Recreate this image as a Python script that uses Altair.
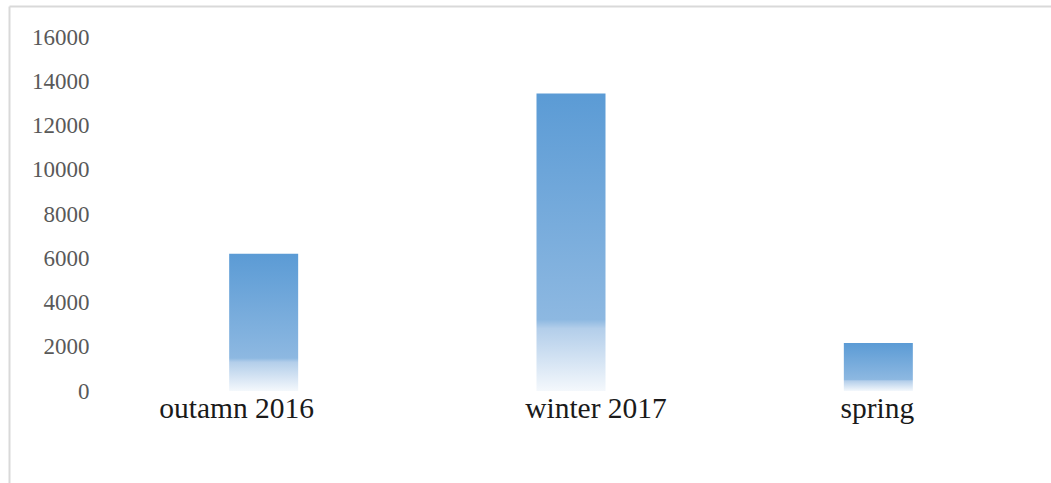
import altair as alt
import pandas as pd

categories = ["outamn 2016", "winter 2017", "spring"]
values = [6200, 13450, 2170]
y_ticks = [0, 2000, 4000, 6000, 8000, 10000, 12000, 14000, 16000]

df = pd.DataFrame({"season": categories, "value": values})

grad = alt.LinearGradient(
    gradient="linear",
    stops=[
        alt.GradientStop(offset=0, color="#5B9BD5"),
        alt.GradientStop(offset=0.76, color="#8DB8E1"),
        alt.GradientStop(offset=0.79, color="#B3CEEA"),
        alt.GradientStop(offset=1, color="#F4F8FC"),
    ],
    x1=0, x2=0, y1=0, y2=1,
)

label_offset = {
    "condition": [
        {"test": "datum.value === 'outamn 2016'", "value": -27},
        {"test": "datum.value === 'winter 2017'", "value": 25},
    ],
    "value": -1,
}

bars = alt.Chart(df).mark_bar(size=69, color=grad).encode(
    x=alt.X("season:N", sort=categories,
            scale=alt.Scale(paddingInner=0, paddingOuter=0),
            axis=alt.Axis(title=None, labelAngle=0, domain=False, ticks=False,
                          labelFont="Liberation Serif", labelFontSize=29.5,
                          labelColor="#1a1a1a", labelPadding=3,
                          labelOffset=label_offset)),
    y=alt.Y("value:Q", scale=alt.Scale(domain=[0, 16000], nice=False),
            axis=alt.Axis(title=None, values=y_ticks, grid=False, domain=False,
                          ticks=False, labelFont="Liberation Serif", labelFontSize=23,
                          labelColor="#595959", labelPadding=21, format="d")),
)

border_data = alt.Data(values=[{"a": 1}])
top_line = alt.Chart(border_data).mark_rule(color="#d9d9d9", strokeWidth=2).encode(
    x=alt.value(-100.5), x2=alt.value(945), y=alt.value(-30.5)
)
left_line = alt.Chart(border_data).mark_rule(color="#d9d9d9", strokeWidth=2).encode(
    x=alt.value(-100.5), y=alt.value(-30.5), y2=alt.value(450)
)

chart = alt.layer(bars, top_line, left_line).properties(
    width=922, height=354,
    padding={"left": 110, "top": 37, "right": 19, "bottom": 92},
    autosize=alt.AutoSizeParams(type="none"),
    background="white",
).configure_view(stroke=None)

chart.save("out.html", embed_options={"renderer": "svg", "actions": False})
